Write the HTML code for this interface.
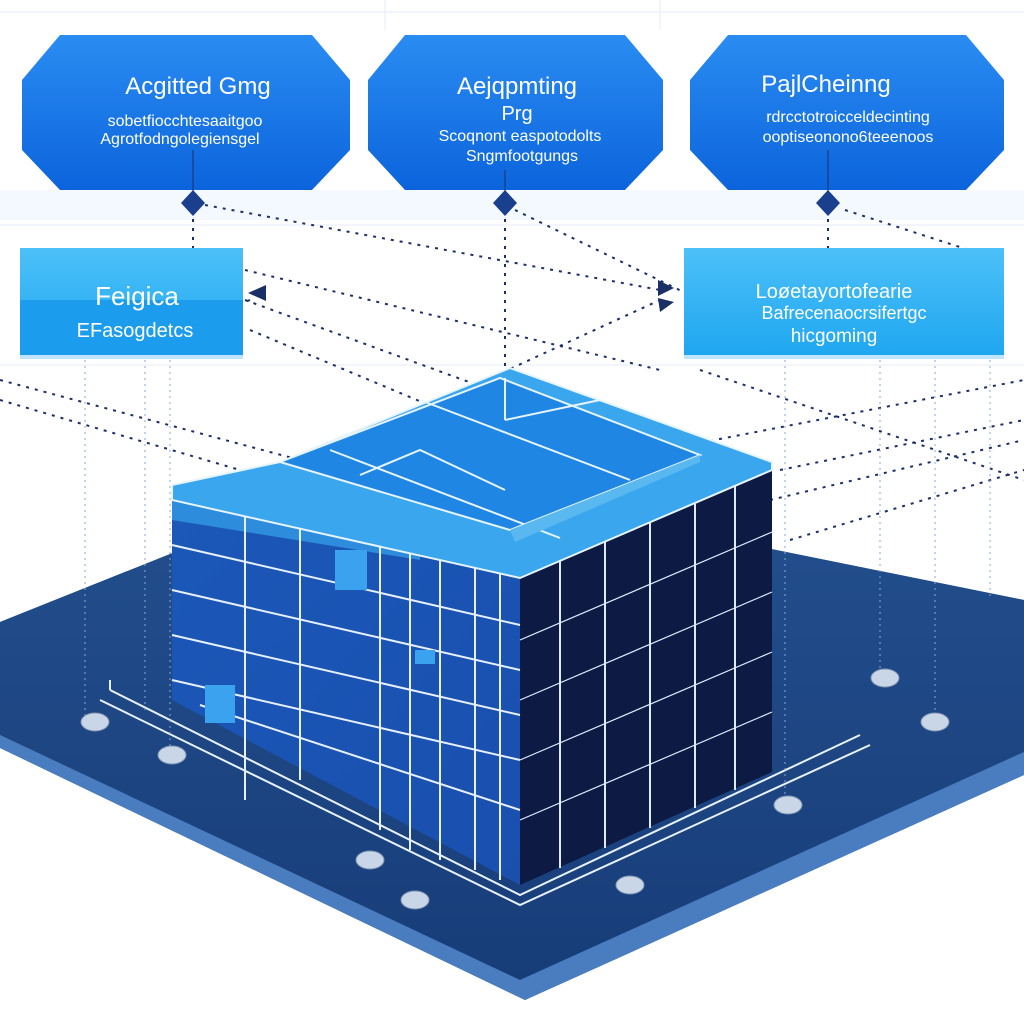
<!DOCTYPE html>
<html><head><meta charset="utf-8"><style>
html,body{margin:0;padding:0;background:#fff;}
svg{display:block;}
text{font-family:"Liberation Sans",sans-serif;fill:#fff;}
</style></head><body>
<svg width="1024" height="1024" viewBox="0 0 1024 1024" xmlns="http://www.w3.org/2000/svg">
<defs>
<linearGradient id="hb" x1="0" y1="0" x2="0" y2="1"><stop offset="0" stop-color="#2a8cf2"/><stop offset="1" stop-color="#0c64dc"/></linearGradient>
<linearGradient id="lb" x1="0" y1="0" x2="0" y2="1"><stop offset="0" stop-color="#4cc0f8"/><stop offset="1" stop-color="#1ea6f0"/></linearGradient>
<linearGradient id="lf" x1="0" y1="0" x2="1" y2="1"><stop offset="0" stop-color="#1b58b8"/><stop offset="1" stop-color="#1a4fae"/></linearGradient>
<linearGradient id="pl" x1="0" y1="0" x2="0" y2="1"><stop offset="0" stop-color="#24508f"/><stop offset="1" stop-color="#173d78"/></linearGradient>
</defs>
<rect width="1024" height="1024" fill="#fff"/>
<g stroke="#e6eef8" stroke-width="1">
<line x1="0" y1="12" x2="1024" y2="12"/><line x1="0" y1="210" x2="1024" y2="210"/><line x1="0" y1="225" x2="1024" y2="225"/>
<line x1="0" y1="365" x2="1024" y2="365"/><line x1="385" y1="0" x2="385" y2="30"/><line x1="660" y1="0" x2="660" y2="30"/>
</g>
<rect x="0" y="190" width="1024" height="30" fill="#f3f9fe"/>
<polygon points="0,622 380,470 1024,600 1024,775 525,1000 0,748" fill="#2c5fa3"/>
<polygon points="0,622 380,470 1024,600 1024,752 520,980 0,735" fill="url(#pl)"/>
<polygon points="0,735 520,980 1024,752 1024,775 525,1000 0,748" fill="#4a7cc0"/>
<g stroke="#e8f2ff" stroke-width="2" fill="none">
<polyline points="110,690 520,895 860,735"/><polyline points="110,680 110,690"/>
<polyline points="100,700 520,905 870,745"/>
</g>
<g stroke="#1c2f66" stroke-width="2" stroke-dasharray="3,6" fill="none">
<line x1="193" y1="210" x2="193" y2="250"/><line x1="505" y1="210" x2="505" y2="420"/><line x1="828" y1="210" x2="828" y2="250"/>
<line x1="205" y1="205" x2="660" y2="290"/><line x1="515" y1="210" x2="700" y2="300"/><line x1="845" y1="210" x2="1000" y2="260"/>
<line x1="245" y1="270" x2="660" y2="370"/><line x1="245" y1="300" x2="600" y2="430"/><line x1="250" y1="330" x2="560" y2="460"/>
<line x1="290" y1="470" x2="660" y2="300"/><line x1="250" y1="300" x2="200" y2="320"/>
<line x1="0" y1="380" x2="300" y2="460"/><line x1="0" y1="400" x2="240" y2="470"/>
<line x1="560" y1="470" x2="1024" y2="380"/><line x1="780" y1="470" x2="1024" y2="420"/><line x1="790" y1="540" x2="1024" y2="470"/>
<line x1="700" y1="370" x2="1024" y2="480"/><line x1="770" y1="500" x2="1024" y2="440"/>
</g>
<g stroke="#8aa8d0" stroke-width="1" stroke-dasharray="2,4">
<line x1="145" y1="360" x2="145" y2="710"/><line x1="85" y1="360" x2="85" y2="720"/><line x1="170" y1="360" x2="170" y2="750"/>
<line x1="880" y1="360" x2="880" y2="670"/><line x1="935" y1="360" x2="935" y2="710"/><line x1="785" y1="360" x2="785" y2="800"/>
<line x1="990" y1="360" x2="990" y2="600"/>
</g>
<polygon points="172,500 520,578 520,885 172,700" fill="url(#lf)"/>
<polygon points="172,500 245,480 420,505 420,560 172,520" fill="#3ab0f5" opacity=".6"/>
<polygon points="520,578 772,470 772,772 520,885" fill="#0c1a44"/>
<g stroke="#dfeaff" stroke-width="2">
<line x1="560" y1="560" x2="560" y2="868"/><line x1="605" y1="542" x2="605" y2="848"/><line x1="650" y1="523" x2="650" y2="828"/><line x1="695" y1="504" x2="695" y2="808"/><line x1="735" y1="486" x2="735" y2="790"/>
<line x1="520" y1="640" x2="772" y2="532" stroke-width="1.2"/><line x1="520" y1="700" x2="772" y2="592" stroke-width="1.2"/><line x1="520" y1="760" x2="772" y2="652" stroke-width="1.2"/><line x1="520" y1="820" x2="772" y2="712" stroke-width="1.2"/>
</g>
<g stroke="#e6f0ff" stroke-width="2">
<line x1="172" y1="545" x2="520" y2="625"/><line x1="172" y1="590" x2="520" y2="670"/><line x1="172" y1="635" x2="520" y2="715"/><line x1="172" y1="680" x2="520" y2="760"/><line x1="200" y1="705" x2="520" y2="810"/>
<line x1="245" y1="485" x2="245" y2="800"/><line x1="300" y1="500" x2="300" y2="780"/><line x1="380" y1="520" x2="380" y2="830"/><line x1="410" y1="527" x2="410" y2="850"/><line x1="440" y1="534" x2="440" y2="860"/><line x1="475" y1="545" x2="475" y2="870"/><line x1="500" y1="560" x2="500" y2="880"/>
</g>
<rect x="335" y="550" width="32" height="40" fill="#3aa2ee"/><rect x="205" y="685" width="30" height="38" fill="#3aa2ee"/>
<rect x="415" y="650" width="20" height="14" fill="#3aa2ee"/>
<polygon points="172,500 172,485 280,462 510,368 772,462 772,470 520,578" fill="#3aa6ee" stroke="#e6f4ff" stroke-width="2"/>
<polygon points="280,462 500,378 700,455 510,530" fill="#1f86e4" stroke="#e6f4ff" stroke-width="2"/>
<g stroke="#e6f4ff" stroke-width="2" fill="none">
<polyline points="330,450 560,538"/><polyline points="360,475 420,450 505,490"/><polyline points="505,420 600,400"/><polyline points="420,400 630,480"/><line x1="505" y1="378" x2="505" y2="420"/>
</g>
<polygon points="510,530 700,455 700,462 515,542" fill="#5ab8f0"/>
<g fill="#c9d6e8" stroke="#7f93b0">
<ellipse cx="95" cy="722" rx="14" ry="9"/><ellipse cx="172" cy="755" rx="14" ry="9"/><ellipse cx="370" cy="860" rx="14" ry="9"/><ellipse cx="415" cy="900" rx="14" ry="9"/><ellipse cx="630" cy="885" rx="14" ry="9"/><ellipse cx="788" cy="805" rx="14" ry="9"/><ellipse cx="885" cy="678" rx="14" ry="9"/><ellipse cx="935" cy="722" rx="14" ry="9"/>
</g>
<polygon points="60,35 312,35 350,80 350,150 312,190 60,190 22,150 22,80" fill="url(#hb)"/>
<polygon points="405,35 625,35 663,80 663,150 625,190 405,190 368,150 368,80" fill="url(#hb)"/>
<polygon points="728,35 966,35 1004,80 1004,150 966,190 728,190 690,150 690,80" fill="url(#hb)"/>
<g stroke="#1a3a7a" stroke-width="1.2"><line x1="193" y1="150" x2="193" y2="200"/><line x1="505" y1="170" x2="505" y2="200"/><line x1="828" y1="150" x2="828" y2="200"/></g>
<g fill="#1a3f8c"><polygon points="193,190 205,203 193,216 181,203"/><polygon points="505,190 517,203 505,216 493,203"/><polygon points="828,190 840,203 828,216 816,203"/></g>
<text x="198" y="94" font-size="24" text-anchor="middle">Acgitted Gmg</text>
<text x="185" y="126" font-size="16" text-anchor="middle">sobetfiocchtesaaitgoo</text>
<text x="180" y="144" font-size="16" text-anchor="middle">Agrotfodngolegiensgel</text>
<text x="517" y="94" font-size="24" text-anchor="middle">Aejqpmting</text>
<text x="517" y="120" font-size="20" text-anchor="middle">Prg</text>
<text x="520" y="141" font-size="16" text-anchor="middle">Scoqnont easpotodolts</text>
<text x="522" y="161" font-size="16" text-anchor="middle">Sngmfootgungs</text>
<text x="826" y="92" font-size="24" text-anchor="middle">PajlCheinng</text>
<text x="848" y="122" font-size="16" text-anchor="middle">rdrcctotroicceldecinting</text>
<text x="848" y="142" font-size="16" text-anchor="middle">ooptiseonono6teeenoos</text>
<rect x="20" y="248" width="223" height="110" fill="url(#lb)"/>
<rect x="20" y="300" width="223" height="55" fill="#1b9cec"/>
<rect x="20" y="355" width="223" height="4" fill="#bfe4fb"/>
<text x="137" y="305" font-size="26" text-anchor="middle">Feigica</text>
<text x="135" y="337" font-size="20" text-anchor="middle">EFasogdetcs</text>
<rect x="684" y="248" width="320" height="110" fill="url(#lb)"/>
<rect x="684" y="355" width="320" height="4" fill="#bfe4fb"/>
<text x="834" y="298" font-size="20" text-anchor="middle">Loøetayortofearie</text>
<text x="844" y="319" font-size="18" text-anchor="middle">Bafrecenaocrsifertgc</text>
<text x="834" y="342" font-size="19" text-anchor="middle">hicgoming</text>
<g fill="#1a2f66"><polygon points="248,293 266,285 266,301"/><polygon points="674,288 658,280 658,296"/><polygon points="674,302 658,298 660,312"/></g>
</svg>
</body></html>
